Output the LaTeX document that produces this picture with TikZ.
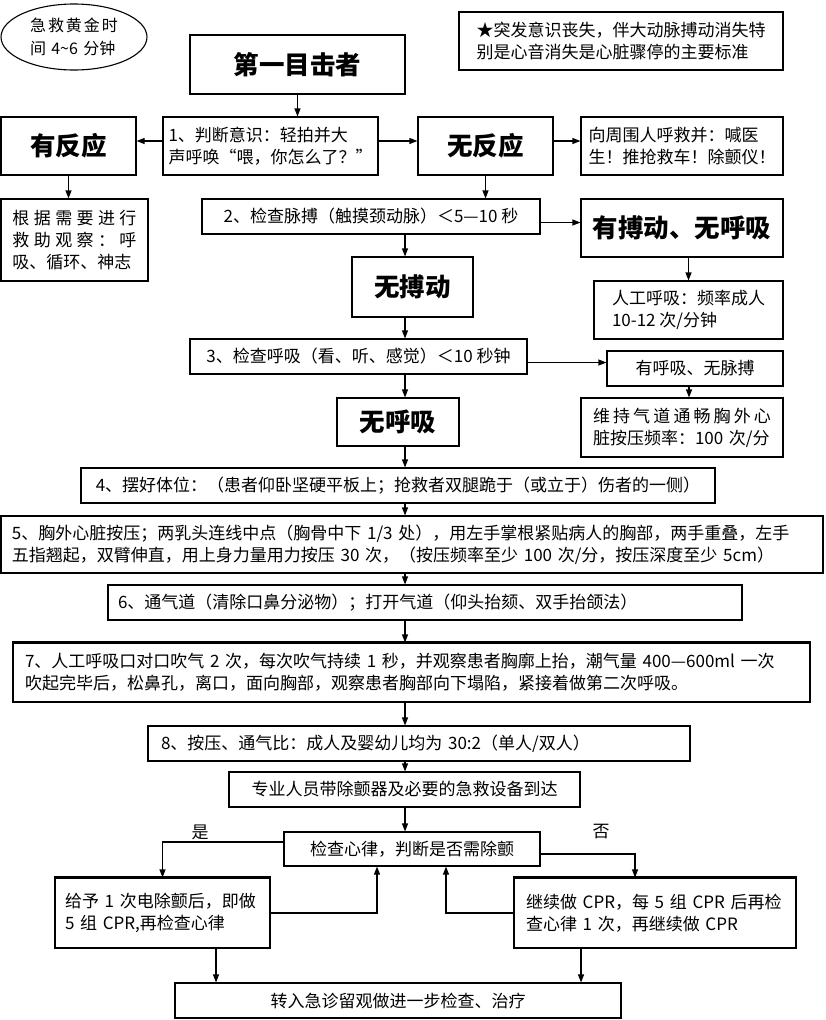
\documentclass[tikz,border=0pt]{standalone}
\usepackage{fontspec}
\setmainfont{Noto Sans CJK SC}
\usetikzlibrary{arrows.meta,shapes.geometric}
\newcommand{\bodysize}{\fontsize{17pt}{22pt}\selectfont}
\newcommand{\titlesize}{\fontsize{25.5pt}{30pt}\selectfont\bfseries}
\tikzset{
	plainbox/.style={draw, line width=1.1pt, inner sep=0pt, font=\bodysize, align=left},
	headbox/.style={plainbox, font=\titlesize, align=center},
	arrowline/.style={-{Triangle[length=8pt,width=6pt]}, line width=1.1pt},
	topline/.style={line width=3pt},
}

\begin{document}
\begin{tikzpicture}[x=1pt,y=-1pt]
			%%%%% START %%%%%
			\useasboundingbox (0,0) rectangle (825,1020);
			\coordinate (spine) at (405,0);
			
			\node[draw, ellipse, line width=1.1pt, minimum width=146pt, minimum height=66pt, inner sep=0pt, font=\fontsize{16pt}{23pt}\selectfont, align=left, text width=88pt] (golden) at (74,37) {急\hfill 救\hfill 黄\hfill 金\hfill 时\\间 4\textasciitilde 6 分钟};
			\node[plainbox, minimum width=324pt, minimum height=58pt] (signs) at (621,41) {★突发意识丧失，伴大动脉搏动消失特\\别是心音消失是心脏骤停的主要标准};
			
			\node[headbox, minimum width=215pt, minimum height=59pt] (witness) at (297.5,64.5) {第一目击者};
			\node[plainbox, minimum width=215pt, minimum height=58pt] (judge) at (270.5,146) {1、判断意识：轻拍并大\\声呼唤“喂，你怎么了？”};
			\node[headbox, minimum width=135pt, minimum height=58pt] (react) at (68.5,146) {有反应};
			\node[headbox, minimum width=135pt, minimum height=58pt] (noreact) at (485.5,146) {无反应};
			\node[plainbox, minimum width=202pt, minimum height=58pt] (callhelp) at (682,146) {向周围人呼救并：喊医\\生！推抢救车！除颤仪！};
			\node[plainbox, minimum width=147pt, minimum height=82pt, text width=124pt] (observe) at (74.5,240) {根\hfill 据\hfill 需\hfill 要\hfill 进\hfill 行\\救\hfill 助\hfill 观\hfill 察\hfill ：\hfill 呼\\吸、循环、神志};
			
			\node[plainbox, minimum width=338pt, minimum height=35pt] (pulse) at (371,216.5) {2、检查脉搏（触摸颈动脉）＜5—10 秒};
			\node[headbox, minimum width=202pt, minimum height=58pt] (haspulse) at (682,228) {有搏动、无呼吸};
			\node[plainbox, minimum width=189pt, minimum height=58pt] (rescue) at (688.5,310) {人工呼吸：频率成人\\10-12 次/分钟};
			\node[headbox, minimum width=121pt, minimum height=60pt] (nopulse) at (412.5,287) {无搏动};
			
			\node[plainbox, minimum width=337pt, minimum height=35pt] (breath) at (358.5,356.5) {3、检查呼吸（看、听、感觉）＜10 秒钟};
			\node[plainbox, minimum width=176pt, minimum height=35pt] (hasbreath) at (695,368.5) {有呼吸、无脉搏};
			\node[plainbox, minimum width=202pt, minimum height=59pt, text width=178pt] (airway) at (682,427.5) {维\hfill 持\hfill 气\hfill 道\hfill 通\hfill 畅\hfill 胸\hfill 外\hfill 心\\脏按压频率：100 次/分};
			\node[headbox, minimum width=122pt, minimum height=48pt] (nobreath) at (398,422) {无呼吸};
			
			\node[plainbox, minimum width=634pt, minimum height=35pt] (posture) at (398,485.5) {4、摆好体位：（患者仰卧坚硬平板上；抢救者双腿跪于（或立于）伤者的一侧）};
			\node[plainbox, minimum width=822pt, minimum height=57pt, text width=800pt] (compress) at (412,544.5) {5、胸外心脏按压；两乳头连线中点（胸骨中下 1/3 处），用左手掌根紧贴病人的胸部，两手重叠，左手\\五指翘起，双臂伸直，用上身力量用力按压 30 次，（按压频率至少 100 次/分，按压深度至少 5cm）};
			\node[plainbox, minimum width=634pt, minimum height=35pt, text width=614pt] (airopen) at (425,602.5) {6、通气道（清除口鼻分泌物）；打开气道（仰头抬颏、双手抬颌法）};
			\node[plainbox, minimum width=797pt, minimum height=59pt, text width=773pt] (mouth) at (411.5,672.5) {7、人工呼吸口对口吹气 2 次，每次吹气持续 1 秒，并观察患者胸廓上抬，潮气量 400—600ml 一次\\吹起完毕后，松鼻孔，离口，面向胸部，观察患者胸部向下塌陷，紧接着做第二次呼吸。};
			\node[plainbox, minimum width=542pt, minimum height=35pt, text width=516pt] (ratio) at (419,743.5) {8、按压、通气比：成人及婴幼儿均为 30:2（单人/双人）};
			\node[plainbox, minimum width=351pt, minimum height=35pt] (arrive) at (404.5,789.5) {专业人员带除颤器及必要的急救设备到达};
			
			\node[plainbox, minimum width=256pt, minimum height=34pt] (rhythm) at (412,849) {检查心律，判断是否需除颤};
			\node[font=\bodysize] (yeslabel) at (200,832) {是};
			\node[font=\bodysize] (nolabel) at (601,832) {否};
			\node[plainbox, minimum width=215pt, minimum height=70pt, text width=195pt] (shock) at (162.5,913) {给予 1 次电除颤后，即做\\5 组 CPR,再检查心律};
			\node[plainbox, minimum width=282pt, minimum height=70pt, text width=258pt] (keepcpr) at (655,913) {继续做 CPR，每 5 组 CPR 后再检\\查心律 1 次，再继续做 CPR};
			\node[plainbox, minimum width=446pt, minimum height=35pt] (admit) at (398,1000.5) {转入急诊留观做进一步检查、治疗};
			
			\draw[topline] (mouth.north west) -- (mouth.north east);
			\draw[topline] (shock.north west) -- (shock.north east);
			\draw[topline] (keepcpr.north west) -- (keepcpr.north east);
			
			\draw[arrowline] (witness.south) -- (witness.south |- judge.north);
			\draw[arrowline] ([yshift=5pt]judge.west) -- ([yshift=5pt]react.east);
			\draw[arrowline] ([yshift=5pt]judge.east) -- ([yshift=5pt]noreact.west);
			\draw[arrowline] ([yshift=5pt]noreact.east) -- ([yshift=5pt]callhelp.west);
			\draw[arrowline] (react.south) -- (react.south |- observe.north);
			\draw[arrowline] (noreact.south) -- (noreact.south |- pulse.north);
			\draw[arrowline] ([yshift=-6pt]pulse.east) -- ([yshift=-6pt]pulse.east -| haspulse.west);
			\draw[arrowline] (haspulse.south -| rescue.north) -- (rescue.north);
			\draw[arrowline] ([yshift=-6pt]breath.east) -- ([yshift=-6pt]breath.east -| hasbreath.west);
			\draw[arrowline] ([xshift=-6pt]hasbreath.south) -- ([xshift=-6pt]hasbreath.south |- airway.north);
			
			\draw[arrowline] (pulse.south -| spine) -- (nopulse.north -| spine);
			\draw[arrowline] (nopulse.south -| spine) -- (breath.north -| spine);
			\draw[arrowline] (breath.south -| spine) -- (nobreath.north -| spine);
			\draw[arrowline] (nobreath.south -| spine) -- (posture.north -| spine);
			\draw[arrowline] (posture.south -| spine) -- (compress.north -| spine);
			\draw[arrowline] (compress.south -| spine) -- (airopen.north -| spine);
			\draw[arrowline] (airopen.south -| spine) -- (mouth.north -| spine);
			\draw[arrowline] (mouth.south -| spine) -- (ratio.north -| spine);
			\draw[arrowline] (ratio.south -| spine) -- (arrive.north -| spine);
			\draw[arrowline] (arrive.south -| spine) -- (rhythm.north -| spine);
			
			\draw[arrowline] ([yshift=7pt]rhythm.west) -| (shock.north);
			\draw[arrowline] ([yshift=-5pt]rhythm.east) -| ([xshift=-20pt]keepcpr.north);
			\draw[arrowline] (shock.east) -| ([xshift=-35pt]rhythm.south);
			\draw[arrowline] (keepcpr.west) -| ([xshift=34pt]rhythm.south);
			\draw[arrowline] ([xshift=53.5pt]shock.south) -- ([xshift=53.5pt]shock.south |- admit.north);
			\draw[arrowline] ([xshift=-74pt]keepcpr.south) -- ([xshift=-74pt]keepcpr.south |- admit.north);
			%%%%% END %%%%%
\end{tikzpicture}
\end{document}
